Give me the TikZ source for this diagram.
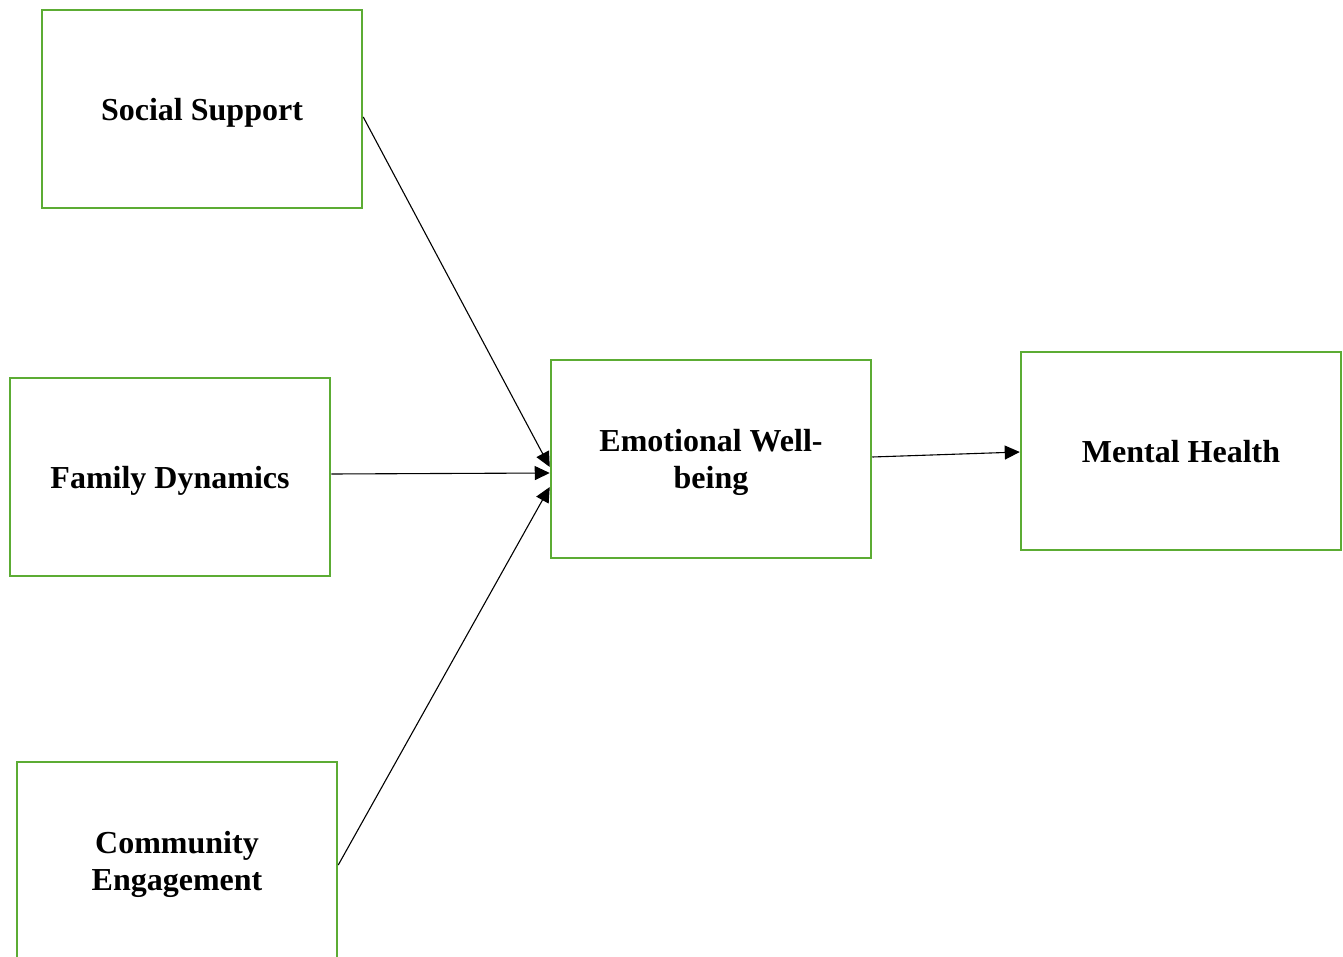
\documentclass[tikz,border=0pt]{standalone}
\usepackage{fontspec}
\setmainfont{Liberation Serif}
\usetikzlibrary{arrows.meta}
\definecolor{boxgreen}{RGB}{92,172,52}

\begin{document}
\begin{tikzpicture}[x=1pt,y=-1pt,
		factor/.style={draw=boxgreen,line width=2.5pt,minimum width=320pt,minimum height=198pt,align=center,text depth=0pt,font=\fontsize{32}{37}\selectfont\bfseries},
		link/.style={line width=1.1pt,-{Triangle[length=15pt,width=14pt]}}]
	\useasboundingbox (0,0) rectangle (1343,957);
	\node[factor] (social) at (202,109) {Social Support};
	\node[factor] (family) at (170,477) {Family Dynamics};
	\node[factor] (community) at (177,861) {Community\\Engagement};
	\node[factor] (emotional) at (711,459) {Emotional Well-\\being};
	\node[factor,text depth=-4pt] (mental) at (1181,451) {Mental Health};
	% paths into emotional well-being
	\draw[link] ([yshift=-8pt]social.east) -- ([yshift=-8pt]emotional.west);
	\draw[link] ([yshift=3pt]family.east) -- ([yshift=-14pt]emotional.west);
	\draw[link] ([yshift=-4pt]community.east) -- ([yshift=-28pt]emotional.west);
	\draw[link] ([yshift=2pt]emotional.east) -- ([yshift=-1pt]mental.west);
\end{tikzpicture}
\end{document}
